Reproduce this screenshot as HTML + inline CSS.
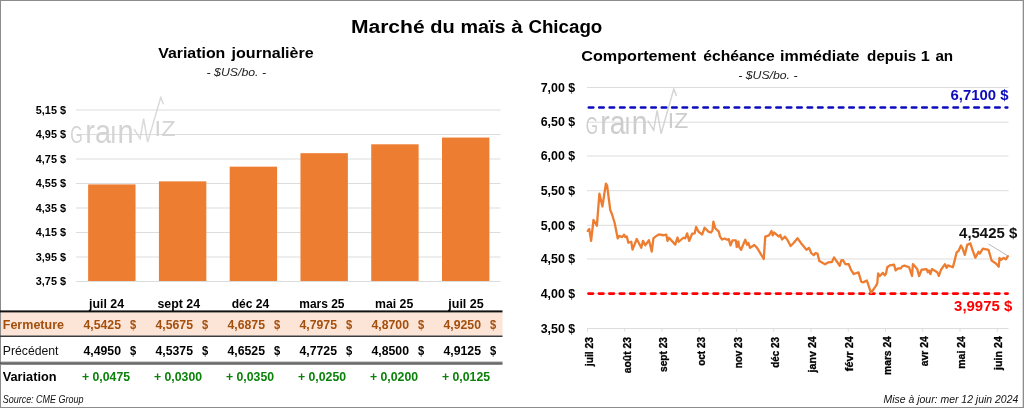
<!DOCTYPE html>
<html lang="fr">
<head>
<meta charset="utf-8">
<title>Marché du maïs à Chicago</title>
<style>
html,body{margin:0;padding:0;background:#fff;}
body{width:1024px;height:408px;overflow:hidden;position:relative;font-family:'Liberation Sans', Arial, sans-serif;}
svg{position:absolute;left:0;top:0;display:block;}
svg text{font-family:'Liberation Sans', Arial, sans-serif;}
</style>
</head>
<body>
<svg width="1024" height="408" viewBox="0 0 1024 408">
<rect x="0.5" y="0.5" width="1023" height="407" fill="#fff" stroke="#8C8C8C" stroke-width="1"/>
<rect x="1022.7" y="0" width="1.3" height="408" fill="#8C8C8C"/>
<text y="32.80" font-size="19.1" font-weight="bold" font-style="normal" fill="#000"><tspan x="350.90" textLength="73.70" lengthAdjust="spacingAndGlyphs">Marché</tspan> <tspan x="430.20" textLength="24.50" lengthAdjust="spacingAndGlyphs">du</tspan> <tspan x="460.40" textLength="45.00" lengthAdjust="spacingAndGlyphs">maïs</tspan> <tspan x="511.20" textLength="11.40" lengthAdjust="spacingAndGlyphs">à</tspan> <tspan x="528.40" textLength="73.90" lengthAdjust="spacingAndGlyphs">Chicago</tspan></text>
<text y="58.00" font-size="15.5" font-weight="bold" font-style="normal" fill="#000"><tspan x="158.20" textLength="67.10" lengthAdjust="spacingAndGlyphs">Variation</tspan> <tspan x="231.60" textLength="82.10" lengthAdjust="spacingAndGlyphs">journalière</tspan></text>
<text x="206.60" y="75.50" font-size="11" font-weight="normal" font-style="italic" fill="#222" textLength="59.40" lengthAdjust="spacingAndGlyphs">- $US/bo. -</text>
<text y="61.25" font-size="15.5" font-weight="bold" font-style="normal" fill="#000"><tspan x="581.30" textLength="114.80" lengthAdjust="spacingAndGlyphs">Comportement</tspan> <tspan x="703.30" textLength="71.50" lengthAdjust="spacingAndGlyphs">échéance</tspan> <tspan x="780.10" textLength="79.40" lengthAdjust="spacingAndGlyphs">immédiate</tspan> <tspan x="867.10" textLength="49.00" lengthAdjust="spacingAndGlyphs">depuis</tspan> <tspan x="920.80" textLength="9.00" lengthAdjust="spacingAndGlyphs">1</tspan> <tspan x="935.40" textLength="17.80" lengthAdjust="spacingAndGlyphs">an</tspan></text>
<text x="738.25" y="78.75" font-size="11" font-weight="normal" font-style="italic" fill="#222" textLength="59.25" lengthAdjust="spacingAndGlyphs">- $US/bo. -</text>
<line x1="76" y1="110.00" x2="500.5" y2="110.00" stroke="#DDDDDD" stroke-width="1"/>
<text x="35.80" y="113.70" font-size="10.8" font-weight="bold" font-style="normal" fill="#000" textLength="30.20" lengthAdjust="spacingAndGlyphs">5,15 $</text>
<line x1="76" y1="134.50" x2="500.5" y2="134.50" stroke="#DDDDDD" stroke-width="1"/>
<text x="35.80" y="138.20" font-size="10.8" font-weight="bold" font-style="normal" fill="#000" textLength="30.20" lengthAdjust="spacingAndGlyphs">4,95 $</text>
<line x1="76" y1="159.00" x2="500.5" y2="159.00" stroke="#DDDDDD" stroke-width="1"/>
<text x="35.80" y="162.70" font-size="10.8" font-weight="bold" font-style="normal" fill="#000" textLength="30.20" lengthAdjust="spacingAndGlyphs">4,75 $</text>
<line x1="76" y1="183.50" x2="500.5" y2="183.50" stroke="#DDDDDD" stroke-width="1"/>
<text x="35.80" y="187.20" font-size="10.8" font-weight="bold" font-style="normal" fill="#000" textLength="30.20" lengthAdjust="spacingAndGlyphs">4,55 $</text>
<line x1="76" y1="208.00" x2="500.5" y2="208.00" stroke="#DDDDDD" stroke-width="1"/>
<text x="35.80" y="211.70" font-size="10.8" font-weight="bold" font-style="normal" fill="#000" textLength="30.20" lengthAdjust="spacingAndGlyphs">4,35 $</text>
<line x1="76" y1="232.50" x2="500.5" y2="232.50" stroke="#DDDDDD" stroke-width="1"/>
<text x="35.80" y="236.20" font-size="10.8" font-weight="bold" font-style="normal" fill="#000" textLength="30.20" lengthAdjust="spacingAndGlyphs">4,15 $</text>
<line x1="76" y1="257.00" x2="500.5" y2="257.00" stroke="#DDDDDD" stroke-width="1"/>
<text x="35.80" y="260.70" font-size="10.8" font-weight="bold" font-style="normal" fill="#000" textLength="30.20" lengthAdjust="spacingAndGlyphs">3,95 $</text>
<line x1="76" y1="281.50" x2="500.5" y2="281.50" stroke="#DDDDDD" stroke-width="1"/>
<text x="35.80" y="285.20" font-size="10.8" font-weight="bold" font-style="normal" fill="#000" textLength="30.20" lengthAdjust="spacingAndGlyphs">3,75 $</text>
<g transform="translate(70.9,0) scale(1,1) translate(-70.9,0)" fill="#D4D4D4" stroke="none"><title>Grainwiz</title>
<text y="142.5"><tspan x="70.3" font-size="23.7" textLength="12.5" lengthAdjust="spacingAndGlyphs">G</tspan><tspan x="85.2" font-size="32.8" textLength="25.9" lengthAdjust="spacingAndGlyphs">ra</tspan><tspan x="109.95" font-size="23.7" textLength="6.6" lengthAdjust="spacingAndGlyphs">I</tspan><tspan x="117.6" font-size="32.8" textLength="16.2" lengthAdjust="spacingAndGlyphs">n</tspan></text>
<polyline points="134,129 140.1,138.6 143.6,118.7 147.7,142.1 160.7,97.5 163.5,104.3" fill="none" stroke="#D4D4D4" stroke-width="1.5" stroke-linejoin="miter" opacity="0.85"/>
<text x="154.6" y="136.4" font-size="22.2" textLength="20.9" lengthAdjust="spacingAndGlyphs">IZ</text>
</g>
<rect x="88.15" y="184.42" width="47.40" height="96.58" fill="#ED7D31"/>
<rect x="158.92" y="181.36" width="47.40" height="99.64" fill="#ED7D31"/>
<rect x="229.69" y="166.66" width="47.40" height="114.34" fill="#ED7D31"/>
<rect x="300.46" y="153.18" width="47.40" height="127.82" fill="#ED7D31"/>
<rect x="371.23" y="144.30" width="47.40" height="136.70" fill="#ED7D31"/>
<rect x="442.00" y="137.56" width="47.40" height="143.44" fill="#ED7D31"/>
<rect x="1" y="312.3" width="501.5" height="23.3" fill="#FCE4D6"/>
<rect x="0" y="310.4" width="502.5" height="2.0" fill="#111"/>
<rect x="0" y="335.5" width="502.5" height="1.5" fill="#3a3a3a"/>
<rect x="0" y="361.5" width="502.5" height="1.0" fill="#a0a0a0"/>
<rect x="0" y="362.5" width="502.5" height="1.25" fill="#2a2a2a"/>
<rect x="0" y="363.75" width="502.5" height="1.25" fill="#8c8c8c"/>
<text x="89.00" y="308.00" font-size="12" font-weight="bold" font-style="normal" fill="#000" textLength="35.00" lengthAdjust="spacingAndGlyphs">juil 24</text>
<text x="157.50" y="308.00" font-size="12" font-weight="bold" font-style="normal" fill="#000" textLength="42.50" lengthAdjust="spacingAndGlyphs">sept 24</text>
<text x="231.75" y="308.00" font-size="12" font-weight="bold" font-style="normal" fill="#000" textLength="37.50" lengthAdjust="spacingAndGlyphs">déc 24</text>
<text x="299.25" y="308.00" font-size="12" font-weight="bold" font-style="normal" fill="#000" textLength="45.25" lengthAdjust="spacingAndGlyphs">mars 25</text>
<text x="375.00" y="308.00" font-size="12" font-weight="bold" font-style="normal" fill="#000" textLength="38.25" lengthAdjust="spacingAndGlyphs">mai 25</text>
<text x="448.25" y="308.00" font-size="12" font-weight="bold" font-style="normal" fill="#000" textLength="35.50" lengthAdjust="spacingAndGlyphs">juil 25</text>
<text x="2.75" y="328.75" font-size="12" font-weight="bold" font-style="normal" fill="#A34F0D" textLength="61.25" lengthAdjust="spacingAndGlyphs">Fermeture</text>
<text x="2.75" y="354.50" font-size="12" font-weight="normal" font-style="normal" fill="#111" textLength="55.75" lengthAdjust="spacingAndGlyphs">Précédent</text>
<text x="2.75" y="380.60" font-size="12" font-weight="bold" font-style="normal" fill="#000" textLength="53.75" lengthAdjust="spacingAndGlyphs">Variation</text>
<text x="83.50" y="328.75" font-size="12" font-weight="bold" font-style="normal" fill="#A34F0D" textLength="37.50" lengthAdjust="spacingAndGlyphs">4,5425</text>
<text x="130.00" y="328.75" font-size="12" font-weight="bold" font-style="normal" fill="#A34F0D" textLength="6.25" lengthAdjust="spacingAndGlyphs">$</text>
<text x="83.50" y="354.50" font-size="12" font-weight="bold" font-style="normal" fill="#000" textLength="37.50" lengthAdjust="spacingAndGlyphs">4,4950</text>
<text x="130.00" y="354.50" font-size="12" font-weight="bold" font-style="normal" fill="#000" textLength="6.25" lengthAdjust="spacingAndGlyphs">$</text>
<text x="82.00" y="380.60" font-size="12" font-weight="bold" font-style="normal" fill="#0A820A" textLength="48.00" lengthAdjust="spacingAndGlyphs">+ 0,0475</text>
<text x="155.50" y="328.75" font-size="12" font-weight="bold" font-style="normal" fill="#A34F0D" textLength="37.50" lengthAdjust="spacingAndGlyphs">4,5675</text>
<text x="202.00" y="328.75" font-size="12" font-weight="bold" font-style="normal" fill="#A34F0D" textLength="6.25" lengthAdjust="spacingAndGlyphs">$</text>
<text x="155.50" y="354.50" font-size="12" font-weight="bold" font-style="normal" fill="#000" textLength="37.50" lengthAdjust="spacingAndGlyphs">4,5375</text>
<text x="202.00" y="354.50" font-size="12" font-weight="bold" font-style="normal" fill="#000" textLength="6.25" lengthAdjust="spacingAndGlyphs">$</text>
<text x="154.00" y="380.60" font-size="12" font-weight="bold" font-style="normal" fill="#0A820A" textLength="48.00" lengthAdjust="spacingAndGlyphs">+ 0,0300</text>
<text x="227.50" y="328.75" font-size="12" font-weight="bold" font-style="normal" fill="#A34F0D" textLength="37.50" lengthAdjust="spacingAndGlyphs">4,6875</text>
<text x="274.00" y="328.75" font-size="12" font-weight="bold" font-style="normal" fill="#A34F0D" textLength="6.25" lengthAdjust="spacingAndGlyphs">$</text>
<text x="227.50" y="354.50" font-size="12" font-weight="bold" font-style="normal" fill="#000" textLength="37.50" lengthAdjust="spacingAndGlyphs">4,6525</text>
<text x="274.00" y="354.50" font-size="12" font-weight="bold" font-style="normal" fill="#000" textLength="6.25" lengthAdjust="spacingAndGlyphs">$</text>
<text x="226.00" y="380.60" font-size="12" font-weight="bold" font-style="normal" fill="#0A820A" textLength="48.00" lengthAdjust="spacingAndGlyphs">+ 0,0350</text>
<text x="299.50" y="328.75" font-size="12" font-weight="bold" font-style="normal" fill="#A34F0D" textLength="37.50" lengthAdjust="spacingAndGlyphs">4,7975</text>
<text x="346.00" y="328.75" font-size="12" font-weight="bold" font-style="normal" fill="#A34F0D" textLength="6.25" lengthAdjust="spacingAndGlyphs">$</text>
<text x="299.50" y="354.50" font-size="12" font-weight="bold" font-style="normal" fill="#000" textLength="37.50" lengthAdjust="spacingAndGlyphs">4,7725</text>
<text x="346.00" y="354.50" font-size="12" font-weight="bold" font-style="normal" fill="#000" textLength="6.25" lengthAdjust="spacingAndGlyphs">$</text>
<text x="298.00" y="380.60" font-size="12" font-weight="bold" font-style="normal" fill="#0A820A" textLength="48.00" lengthAdjust="spacingAndGlyphs">+ 0,0250</text>
<text x="371.50" y="328.75" font-size="12" font-weight="bold" font-style="normal" fill="#A34F0D" textLength="37.50" lengthAdjust="spacingAndGlyphs">4,8700</text>
<text x="418.00" y="328.75" font-size="12" font-weight="bold" font-style="normal" fill="#A34F0D" textLength="6.25" lengthAdjust="spacingAndGlyphs">$</text>
<text x="371.50" y="354.50" font-size="12" font-weight="bold" font-style="normal" fill="#000" textLength="37.50" lengthAdjust="spacingAndGlyphs">4,8500</text>
<text x="418.00" y="354.50" font-size="12" font-weight="bold" font-style="normal" fill="#000" textLength="6.25" lengthAdjust="spacingAndGlyphs">$</text>
<text x="370.00" y="380.60" font-size="12" font-weight="bold" font-style="normal" fill="#0A820A" textLength="48.00" lengthAdjust="spacingAndGlyphs">+ 0,0200</text>
<text x="443.50" y="328.75" font-size="12" font-weight="bold" font-style="normal" fill="#A34F0D" textLength="37.50" lengthAdjust="spacingAndGlyphs">4,9250</text>
<text x="490.00" y="328.75" font-size="12" font-weight="bold" font-style="normal" fill="#A34F0D" textLength="6.25" lengthAdjust="spacingAndGlyphs">$</text>
<text x="443.50" y="354.50" font-size="12" font-weight="bold" font-style="normal" fill="#000" textLength="37.50" lengthAdjust="spacingAndGlyphs">4,9125</text>
<text x="490.00" y="354.50" font-size="12" font-weight="bold" font-style="normal" fill="#000" textLength="6.25" lengthAdjust="spacingAndGlyphs">$</text>
<text x="442.00" y="380.60" font-size="12" font-weight="bold" font-style="normal" fill="#0A820A" textLength="48.00" lengthAdjust="spacingAndGlyphs">+ 0,0125</text>
<text x="2.70" y="403.30" font-size="10.4" font-weight="normal" font-style="italic" fill="#111" textLength="80.80" lengthAdjust="spacingAndGlyphs">Source: CME Group</text>
<line x1="587" y1="87.50" x2="1008.5" y2="87.50" stroke="#DDDDDD" stroke-width="1"/>
<text x="540.70" y="91.75" font-size="12.2" font-weight="bold" font-style="normal" fill="#000" textLength="34.50" lengthAdjust="spacingAndGlyphs">7,00 $</text>
<line x1="587" y1="122.20" x2="1008.5" y2="122.20" stroke="#DDDDDD" stroke-width="1"/>
<text x="540.70" y="126.45" font-size="12.2" font-weight="bold" font-style="normal" fill="#000" textLength="34.50" lengthAdjust="spacingAndGlyphs">6,50 $</text>
<line x1="587" y1="156.00" x2="1008.5" y2="156.00" stroke="#DDDDDD" stroke-width="1"/>
<text x="540.70" y="160.25" font-size="12.2" font-weight="bold" font-style="normal" fill="#000" textLength="34.50" lengthAdjust="spacingAndGlyphs">6,00 $</text>
<line x1="587" y1="190.70" x2="1008.5" y2="190.70" stroke="#DDDDDD" stroke-width="1"/>
<text x="540.70" y="194.95" font-size="12.2" font-weight="bold" font-style="normal" fill="#000" textLength="34.50" lengthAdjust="spacingAndGlyphs">5,50 $</text>
<line x1="587" y1="225.30" x2="1008.5" y2="225.30" stroke="#DDDDDD" stroke-width="1"/>
<text x="540.70" y="229.55" font-size="12.2" font-weight="bold" font-style="normal" fill="#000" textLength="34.50" lengthAdjust="spacingAndGlyphs">5,00 $</text>
<line x1="587" y1="259.00" x2="1008.5" y2="259.00" stroke="#DDDDDD" stroke-width="1"/>
<text x="540.70" y="263.25" font-size="12.2" font-weight="bold" font-style="normal" fill="#000" textLength="34.50" lengthAdjust="spacingAndGlyphs">4,50 $</text>
<line x1="587" y1="293.60" x2="1008.5" y2="293.60" stroke="#DDDDDD" stroke-width="1"/>
<text x="540.70" y="297.85" font-size="12.2" font-weight="bold" font-style="normal" fill="#000" textLength="34.50" lengthAdjust="spacingAndGlyphs">4,00 $</text>
<line x1="587" y1="328.50" x2="1008.5" y2="328.50" stroke="#DDDDDD" stroke-width="1"/>
<text x="540.70" y="332.75" font-size="12.2" font-weight="bold" font-style="normal" fill="#000" textLength="34.50" lengthAdjust="spacingAndGlyphs">3,50 $</text>
<line x1="587.50" y1="328.5" x2="587.50" y2="331.7" stroke="#DDDDDD" stroke-width="1"/>
<line x1="624.75" y1="328.5" x2="624.75" y2="331.7" stroke="#DDDDDD" stroke-width="1"/>
<line x1="662.00" y1="328.5" x2="662.00" y2="331.7" stroke="#DDDDDD" stroke-width="1"/>
<line x1="699.25" y1="328.5" x2="699.25" y2="331.7" stroke="#DDDDDD" stroke-width="1"/>
<line x1="736.50" y1="328.5" x2="736.50" y2="331.7" stroke="#DDDDDD" stroke-width="1"/>
<line x1="773.75" y1="328.5" x2="773.75" y2="331.7" stroke="#DDDDDD" stroke-width="1"/>
<line x1="811.00" y1="328.5" x2="811.00" y2="331.7" stroke="#DDDDDD" stroke-width="1"/>
<line x1="848.25" y1="328.5" x2="848.25" y2="331.7" stroke="#DDDDDD" stroke-width="1"/>
<line x1="885.50" y1="328.5" x2="885.50" y2="331.7" stroke="#DDDDDD" stroke-width="1"/>
<line x1="922.75" y1="328.5" x2="922.75" y2="331.7" stroke="#DDDDDD" stroke-width="1"/>
<line x1="960.00" y1="328.5" x2="960.00" y2="331.7" stroke="#DDDDDD" stroke-width="1"/>
<line x1="997.25" y1="328.5" x2="997.25" y2="331.7" stroke="#DDDDDD" stroke-width="1"/>
<g transform="translate(586.3,-8.4) scale(0.974,1) translate(-70.9,0)" fill="#CDCDCD" stroke="none"><title>Grainwiz</title>
<text y="142.5"><tspan x="70.3" font-size="23.7" textLength="12.5" lengthAdjust="spacingAndGlyphs">G</tspan><tspan x="85.2" font-size="32.8" textLength="25.9" lengthAdjust="spacingAndGlyphs">ra</tspan><tspan x="109.95" font-size="23.7" textLength="6.6" lengthAdjust="spacingAndGlyphs">I</tspan><tspan x="117.6" font-size="32.8" textLength="16.2" lengthAdjust="spacingAndGlyphs">n</tspan></text>
<polyline points="134,129 140.1,138.6 143.6,118.7 147.7,142.1 160.7,97.5 163.5,104.3" fill="none" stroke="#CDCDCD" stroke-width="1.5" stroke-linejoin="miter" opacity="0.85"/>
<text x="154.6" y="136.4" font-size="22.2" textLength="20.9" lengthAdjust="spacingAndGlyphs">IZ</text>
</g>
<text transform="translate(592.90,366.20) rotate(-90)" x="0" y="0" font-size="10.8" font-weight="bold" fill="#000" stroke="#000" stroke-width="0.3" textLength="29.20" lengthAdjust="spacingAndGlyphs">juil 23</text>
<text transform="translate(631.30,373.20) rotate(-90)" x="0" y="0" font-size="10.8" font-weight="bold" fill="#000" stroke="#000" stroke-width="0.3" textLength="36.20" lengthAdjust="spacingAndGlyphs">août 23</text>
<text transform="translate(667.00,372.00) rotate(-90)" x="0" y="0" font-size="10.8" font-weight="bold" fill="#000" stroke="#000" stroke-width="0.3" textLength="35.00" lengthAdjust="spacingAndGlyphs">sept 23</text>
<text transform="translate(704.70,365.80) rotate(-90)" x="0" y="0" font-size="10.8" font-weight="bold" fill="#000" stroke="#000" stroke-width="0.3" textLength="28.80" lengthAdjust="spacingAndGlyphs">oct 23</text>
<text transform="translate(742.00,368.30) rotate(-90)" x="0" y="0" font-size="10.8" font-weight="bold" fill="#000" stroke="#000" stroke-width="0.3" textLength="31.30" lengthAdjust="spacingAndGlyphs">nov 23</text>
<text transform="translate(779.20,367.80) rotate(-90)" x="0" y="0" font-size="10.8" font-weight="bold" fill="#000" stroke="#000" stroke-width="0.3" textLength="30.80" lengthAdjust="spacingAndGlyphs">déc 23</text>
<text transform="translate(815.70,372.40) rotate(-90)" x="0" y="0" font-size="10.8" font-weight="bold" fill="#000" stroke="#000" stroke-width="0.3" textLength="36.20" lengthAdjust="spacingAndGlyphs">janv 24</text>
<text transform="translate(853.20,371.20) rotate(-90)" x="0" y="0" font-size="10.8" font-weight="bold" fill="#000" stroke="#000" stroke-width="0.3" textLength="35.00" lengthAdjust="spacingAndGlyphs">févr 24</text>
<text transform="translate(890.70,374.90) rotate(-90)" x="0" y="0" font-size="10.8" font-weight="bold" fill="#000" stroke="#000" stroke-width="0.3" textLength="38.70" lengthAdjust="spacingAndGlyphs">mars 24</text>
<text transform="translate(927.70,366.20) rotate(-90)" x="0" y="0" font-size="10.8" font-weight="bold" fill="#000" stroke="#000" stroke-width="0.3" textLength="30.00" lengthAdjust="spacingAndGlyphs">avr 24</text>
<text transform="translate(965.00,368.70) rotate(-90)" x="0" y="0" font-size="10.8" font-weight="bold" fill="#000" stroke="#000" stroke-width="0.3" textLength="32.50" lengthAdjust="spacingAndGlyphs">mai 24</text>
<text transform="translate(1002.00,369.90) rotate(-90)" x="0" y="0" font-size="10.8" font-weight="bold" fill="#000" stroke="#000" stroke-width="0.3" textLength="33.70" lengthAdjust="spacingAndGlyphs">juin 24</text>
<line x1="588.8" y1="107.5" x2="1007.3" y2="107.5" stroke="#0C0CBE" stroke-width="2.6" stroke-dasharray="4.5 5.92" stroke-linecap="round"/>
<line x1="588.5" y1="293.6" x2="1007.6" y2="293.6" stroke="#FF0000" stroke-width="2.7" stroke-dasharray="4.5 5.92" stroke-linecap="round"/>
<polyline points="587.75,230.9 589.25,229.0 591.1,240.9 593.5,220.0 596.9,225.7 599.4,193.6 602.4,206.5 605.9,183.6 607.1,185.5 610.25,209.9 612.1,214.5 614.6,222.75 617.75,238.4 619.25,235.9 622.1,237.1 624.0,234.6 625.25,237.1 626.75,236.5 628.4,242.75 631.25,241.75 632.5,249.6 636.75,239.0 641.25,247.75 643.0,240.9 645.25,245.25 649.0,240.25 651.75,251.5 653.4,238.4 655.9,236.25 659.0,234.4 663.4,235.25 666.25,234.6 667.5,240.9 669.0,237.75 675.25,244.6 677.5,237.5 678.75,241.75 683.4,237.75 685.25,238.4 687.1,233.4 689.25,240.9 692.1,233.75 694.6,233.4 696.1,226.9 698.4,231.5 702.1,234.6 704.6,227.75 708.4,231.6 710.9,232.5 712.5,230.4 713.4,221.6 715.25,228.25 718.75,231.6 720.0,236.6 722.1,239.5 724.6,238.5 727.1,239.75 728.75,239.1 730.5,245.4 732.5,240.4 735.9,240.4 736.75,247.0 738.4,241.6 739.0,246.6 741.1,249.75 745.25,239.75 747.1,244.75 748.4,242.9 750.0,247.9 754.25,245.0 757.1,247.9 763.75,259.0 765.25,236.6 769.0,235.4 771.5,231.0 772.75,235.4 774.0,232.5 779.0,236.6 780.25,235.0 782.1,239.5 785.0,236.6 787.75,240.4 790.6,246.0 793.4,243.25 797.5,238.25 800.9,242.9 806.5,249.75 809.0,247.9 811.25,253.0 813.75,255.25 815.6,253.0 817.5,253.6 819.4,261.1 825.0,264.25 828.1,262.4 831.9,262.0 834.0,257.4 839.75,265.75 841.25,260.5 843.1,260.25 845.25,264.0 848.75,264.25 851.0,269.9 853.75,274.0 858.5,272.4 861.25,281.75 863.1,282.4 866.9,280.5 871.0,293.0 875.4,286.6 877.25,283.5 878.1,273.5 879.75,276.0 882.9,272.9 884.75,275.4 886.0,273.5 887.25,267.25 889.75,265.4 894.1,264.75 895.6,270.4 897.9,268.5 901.0,268.25 902.25,266.25 904.5,265.6 909.1,267.25 912.0,276.0 912.9,264.1 917.25,269.1 919.1,276.0 921.6,269.75 926.6,269.1 927.9,272.25 929.0,270.4 930.4,274.1 931.9,269.1 937.25,272.25 938.9,276.0 941.0,269.75 945.0,264.1 946.6,267.9 947.9,265.4 952.9,267.25 955.0,259.1 956.6,252.4 958.5,251.0 961.0,245.5 962.9,249.25 964.75,254.9 967.25,244.9 970.4,243.4 972.25,249.25 975.4,257.75 978.5,251.75 979.75,253.6 982.9,248.6 988.5,249.9 991.6,260.5 996.0,263.6 998.75,266.75 999.5,258.0 1001.0,259.9 1003.5,258.0 1005.75,259.25 1007.9,256.1" fill="none" stroke="#ED7D31" stroke-width="2.3" stroke-linejoin="round" stroke-linecap="round"/>
<text x="950.50" y="99.50" font-size="14.2" font-weight="bold" font-style="normal" fill="#0C0CBE" textLength="58.00" lengthAdjust="spacingAndGlyphs">6,7100 $</text>
<text x="954.10" y="310.90" font-size="14.2" font-weight="bold" font-style="normal" fill="#FF0000" textLength="58.15" lengthAdjust="spacingAndGlyphs">3,9975 $</text>
<text x="959.10" y="238.00" font-size="14.2" font-weight="bold" font-style="normal" fill="#111" textLength="58.15" lengthAdjust="spacingAndGlyphs">4,5425 $</text>
<line x1="988.5" y1="244" x2="1007.25" y2="255.5" stroke="#A6A6A6" stroke-width="0.8"/>
<text x="883.50" y="403.30" font-size="10.4" font-weight="normal" font-style="italic" fill="#111" textLength="134.80" lengthAdjust="spacingAndGlyphs">Mise à jour: mer 12 juin 2024</text>
</svg>
</body>
</html>
